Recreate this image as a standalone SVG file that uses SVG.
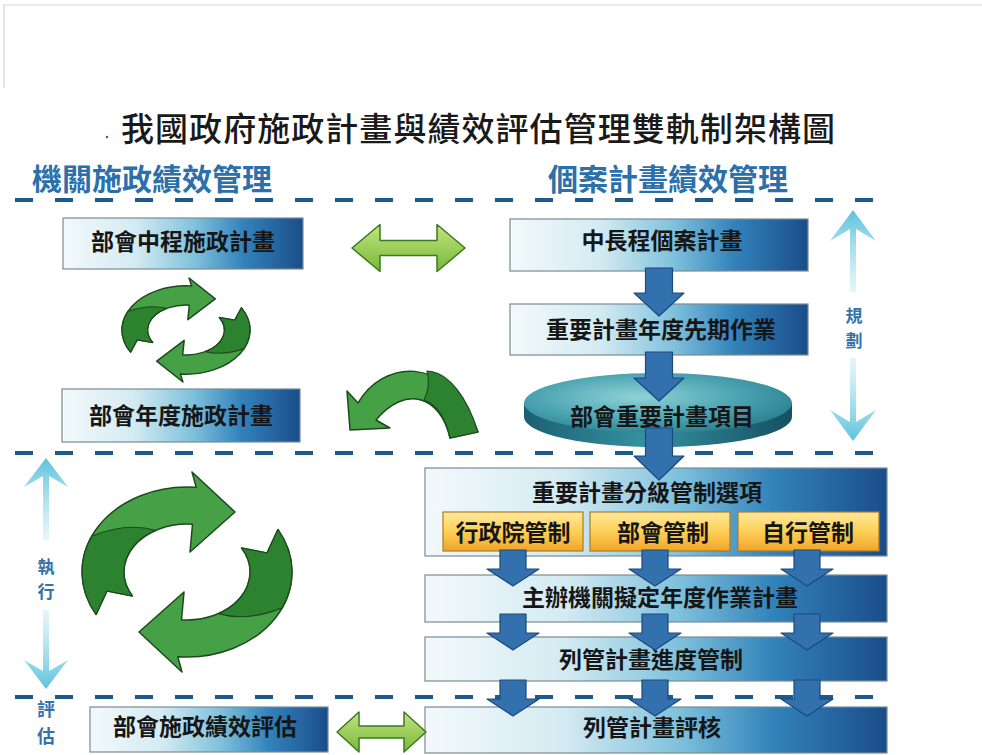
<svg xmlns="http://www.w3.org/2000/svg" width="982" height="755" viewBox="0 0 982 755">
<defs>
<style>
.t{font-family:"Noto Sans CJK TC","Noto Sans CJK SC",sans-serif;font-weight:700;fill:#161616;font-size:23px;text-anchor:middle}
.hd{font-family:"Noto Sans CJK TC","Noto Sans CJK SC",sans-serif;font-weight:700;fill:#2b6fab;font-size:30px}
.ttl{font-family:"Noto Sans CJK TC","Noto Sans CJK SC",sans-serif;font-weight:500;fill:#1a1a1a;font-size:33px}
.side{font-family:"Noto Sans CJK TC","Noto Sans CJK SC",sans-serif;font-weight:700;fill:#3672a8;text-anchor:middle}
.dash{stroke:#1d5a8c;stroke-width:4;stroke-dasharray:18 22;fill:none}
.box{fill:url(#bg);stroke:#7a8a96;stroke-width:1.2}
.ybox{fill:url(#yg);stroke:#b07a20;stroke-width:1.2}
.darr{fill:#3270ae;stroke:#1b4a7c;stroke-width:1.2;stroke-linejoin:round}
.garr{fill:#46a046;stroke:#1d4a1d;stroke-width:1.5;stroke-linejoin:round;vector-effect:non-scaling-stroke}
.gdark{fill:#2d8230;stroke:#1d4a1d;stroke-width:1.2;stroke-linejoin:round;vector-effect:non-scaling-stroke}
.lgarr{fill:url(#lg);stroke:#3a7a22;stroke-width:1.5;stroke-linejoin:round}
.vup{fill:url(#vu)}
.vdn{fill:url(#vd)}
</style>
<linearGradient id="bg" x1="0" y1="0" x2="1" y2="0">
<stop offset="0" stop-color="#f3f9fb"/>
<stop offset="0.3" stop-color="#d4ebf2"/>
<stop offset="0.55" stop-color="#7fc1dc"/>
<stop offset="0.75" stop-color="#3383bb"/>
<stop offset="1" stop-color="#1a4d8a"/>
</linearGradient>
<linearGradient id="yg" x1="0" y1="0" x2="0" y2="1">
<stop offset="0" stop-color="#ffe99e"/>
<stop offset="0.5" stop-color="#fdd056"/>
<stop offset="1" stop-color="#f0a52a"/>
</linearGradient>
<linearGradient id="lg" x1="0" y1="0" x2="0" y2="1">
<stop offset="0" stop-color="#c2e47e"/>
<stop offset="1" stop-color="#78b83a"/>
</linearGradient>
<linearGradient id="vu" x1="0" y1="0" x2="0" y2="1">
<stop offset="0" stop-color="#5cc2dc"/>
<stop offset="1" stop-color="#a8e0ee" stop-opacity="0.3"/>
</linearGradient>
<linearGradient id="vd" x1="0" y1="1" x2="0" y2="0">
<stop offset="0" stop-color="#5cc2dc"/>
<stop offset="1" stop-color="#a8e0ee" stop-opacity="0.3"/>
</linearGradient>
<radialGradient id="dtop" cx="0.42" cy="0.4" r="0.65">
<stop offset="0" stop-color="#8fd2d8"/>
<stop offset="0.6" stop-color="#4aa3b0"/>
<stop offset="1" stop-color="#2a7f8f"/>
</radialGradient>
<linearGradient id="dside" x1="0" y1="0" x2="1" y2="0">
<stop offset="0" stop-color="#1b6072"/>
<stop offset="0.45" stop-color="#3591a0"/>
<stop offset="1" stop-color="#155063"/>
</linearGradient>
<g id="cycA">
<path class="garr" d="M-90.9 42.5 A105 85 0 0 1 9.2 -84.7 L5 -100 L48 -60 L3 -20 L5.5 -47.8 A63 48 0 0 0 -54.6 24 L-80 19 Z"/>
<path class="gdark" d="M-90.9 42.5 A105 85 0 0 1 -95.2 -35.9 Q-60 -50 -31.5 -41.6 A63 48 0 0 0 -54.6 24 L-80 19 Z"/>
</g>
<g id="cycle">
<use href="#cycA"/>
<use href="#cycA" transform="rotate(180)"/>
</g>
<path id="sa" class="darr" d="M-13 0 L13 0 L13 19 L26 19 L0 36 L-26 19 L-13 19 Z"/>
</defs>

<rect width="982" height="755" fill="#ffffff"/>
<g id="frame" stroke="#d6d6d6" stroke-width="1.2" fill="none">
<line x1="3" y1="5" x2="982" y2="5"/>
<line x1="4" y1="5" x2="4" y2="88"/>
</g>

<g id="title">
<circle cx="107" cy="137" r="1.2" fill="#555"/>
<text class="ttl" x="121" y="141" textLength="714" lengthAdjust="spacing">我國政府施政計畫與績效評估管理雙軌制架構圖</text>
</g>

<g id="headers">
<text class="hd" x="32" y="190">機關施政績效管理</text>
<text class="hd" x="548" y="190">個案計畫績效管理</text>
</g>

<g id="dividers">
<line class="dash" x1="15" y1="200" x2="882" y2="200"/>
<line class="dash" x1="15" y1="453" x2="882" y2="453"/>
<line class="dash" x1="15" y1="697" x2="882" y2="697"/>
</g>

<g id="phase-labels">
<path class="vup" d="M853 210 L876 241 L856 229 L856 292 L850 292 L850 229 L830 241 Z"/>
<path class="vdn" d="M853 441 L876 410 L856 422 L856 358 L850 358 L850 422 L830 410 Z"/>
<text class="side" font-size="17"><tspan x="854" y="322">規</tspan><tspan x="854" y="347">劃</tspan></text>
<path class="vup" d="M46 458 L68 487 L49 476 L49 540 L43 540 L43 476 L24 487 Z"/>
<path class="vdn" d="M46 689 L68 660 L49 671 L49 610 L43 610 L43 671 L24 660 Z"/>
<text class="side" font-size="17"><tspan x="46" y="573">執</tspan><tspan x="46" y="598">行</tspan></text>
<text class="side" font-size="18"><tspan x="46" y="716">評</tspan><tspan x="46" y="743">估</tspan></text>
</g>

<g id="n-mid-plan">
<rect class="box" x="63" y="218" width="240" height="51"/>
<text class="t" x="183" y="250">部會中程施政計畫</text>
</g>
<g id="n-annual-plan">
<rect class="box" x="62" y="389" width="238" height="53"/>
<text class="t" x="181" y="424">部會年度施政計畫</text>
</g>
<g id="n-eval">
<rect class="box" x="90" y="707" width="238" height="45"/>
<text class="t" x="205" y="735">部會施政績效評估</text>
</g>

<g id="n-case-plan">
<rect class="box" x="510" y="219" width="298" height="52"/>
<text class="t" x="662" y="249">中長程個案計畫</text>
</g>
<g id="n-prework">
<rect class="box" x="510" y="304" width="298" height="51"/>
<text class="t" x="661" y="338">重要計畫年度先期作業</text>
</g>
<g id="n-items">
<path d="M524 403 L524 417 A134 30 0 0 0 792 417 L792 403 Z" fill="url(#dside)"/>
<ellipse cx="658" cy="403" rx="134" ry="30" fill="url(#dtop)"/>
<text class="t" x="662" y="425" font-size="24px">部會重要計畫項目</text>
</g>
<g id="n-options">
<rect class="box" x="425" y="468" width="462" height="88"/>
<text class="t" x="647" y="501">重要計畫分級管制選項</text>
<rect class="ybox" x="443" y="512" width="140" height="39"/>
<text class="t" x="513" y="541">行政院管制</text>
<rect class="ybox" x="590" y="512" width="140" height="39"/>
<text class="t" x="663" y="541">部會管制</text>
<rect class="ybox" x="738" y="512" width="141" height="39"/>
<text class="t" x="808" y="541">自行管制</text>
</g>
<g id="n-annual-work">
<rect class="box" x="425" y="575" width="462" height="47"/>
<text class="t" x="660" y="606">主辦機關擬定年度作業計畫</text>
</g>
<g id="n-progress">
<rect class="box" x="425" y="637" width="462" height="44"/>
<text class="t" x="651" y="668">列管計畫進度管制</text>
</g>
<g id="n-review">
<rect class="box" x="425" y="707" width="462" height="46"/>
<text class="t" x="652" y="736">列管計畫評核</text>
</g>

<g id="cycles">
<use href="#cycle" transform="translate(186 330) scale(0.61 0.52)"/>
<use href="#cycle" transform="translate(187 572)"/>
</g>

<g id="connectors">
<path class="lgarr" d="M352 248 L380 224.5 L380 240.5 L437 240.5 L437 224.5 L465 248 L437 271.5 L437 255.5 L380 255.5 L380 271.5 Z"/>
<path class="lgarr" d="M337 732 L359 712 L359 726 L404 726 L404 712 L426 732 L404 752 L404 738 L359 738 L359 752 Z"/>
<path class="garr" d="M350 430 L347 391 L358 403 C382 362 445 350 478 432 L450 438 C440 395 405 385 376 420 L390 428 Z"/>
<path class="gdark" d="M427 371 C450 372 468 400 478 432 L450 438 C446 420 438 405 424 400 Q431 386 427 371 Z"/>
<path class="darr" d="M645.5 268 L672.5 268 L672.5 293 L684 293 L659 316 L634 293 L645.5 293 Z"/>
<path class="darr" d="M645.5 352 L672.5 352 L672.5 378 L684 378 L659 401 L634 378 L645.5 378 Z"/>
<path class="darr" d="M645.5 428 L672.5 428 L672.5 456 L684 456 L659 480 L634 456 L645.5 456 Z"/>
<use href="#sa" x="513" y="550"/>
<use href="#sa" x="655" y="550"/>
<use href="#sa" x="807" y="550"/>
<use href="#sa" x="513" y="614"/>
<use href="#sa" x="655" y="614"/>
<use href="#sa" x="807" y="614"/>
<use href="#sa" x="513" y="680"/>
<use href="#sa" x="655" y="680"/>
<use href="#sa" x="807" y="680"/>
</g>
</svg>
